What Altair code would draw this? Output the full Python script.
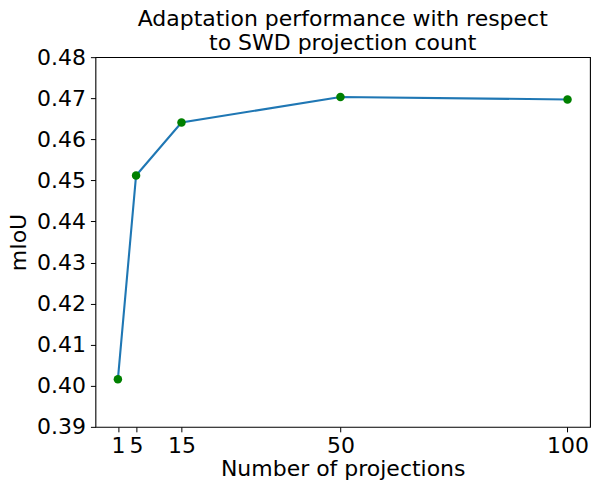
import altair as alt
import pandas as pd

projections = [1, 5, 15, 50, 100]
miou = [0.4016, 0.4512, 0.4641, 0.4703, 0.4697]
x_ticks = [1, 5, 15, 50, 100]
y_ticks = [0.39, 0.40, 0.41, 0.42, 0.43, 0.44, 0.45, 0.46, 0.47, 0.48]

df = pd.DataFrame({"projections": projections, "miou": miou})

FONT = "DejaVu Sans"

x = alt.X("projections:Q",
          scale=alt.Scale(domain=[-3.95, 104.95], nice=False, zero=False),
          axis=alt.Axis(values=x_ticks, title="Number of projections", grid=False,
                        labelFontSize=22, titleFontSize=22, labelFont=FONT, titleFont=FONT,
                        titleFontWeight="normal", tickSize=5, labelPadding=4, titlePadding=2,
                        domain=False, tickColor="black", labelColor="black", titleColor="black",
                        labelFlush=False))
y = alt.Y("miou:Q",
          scale=alt.Scale(domain=[0.39, 0.48], nice=False, zero=False),
          axis=alt.Axis(values=y_ticks, format=".2f", title="mIoU", grid=False,
                        labelFontSize=22, titleFontSize=22, labelFont=FONT, titleFont=FONT,
                        titleFontWeight="normal", tickSize=5, labelPadding=5, titlePadding=6,
                        domain=False, tickColor="black", labelColor="black", titleColor="black",
                        labelFlush=False))

line = alt.Chart(df).mark_line(color="#1f77b4", strokeWidth=2.1).encode(x=x, y=y)
pts = alt.Chart(df).mark_point(filled=True, color="green", size=72, opacity=1).encode(x=x, y=y)

chart = alt.layer(line, pts).properties(
    width=495, height=370,
    title=alt.Title(["Adaptation performance with respect", "to SWD projection count"],
                    fontSize=22, font=FONT, fontWeight="normal", anchor="middle",
                    lineHeight=24, offset=-9, color="black"),
    padding={"left": 87.5, "top": 49, "right": 2, "bottom": 60},
    autosize="none",
).configure_view(stroke="black", strokeWidth=1.1)

chart.save("out.html", embed_options={"renderer": "svg", "actions": False})
